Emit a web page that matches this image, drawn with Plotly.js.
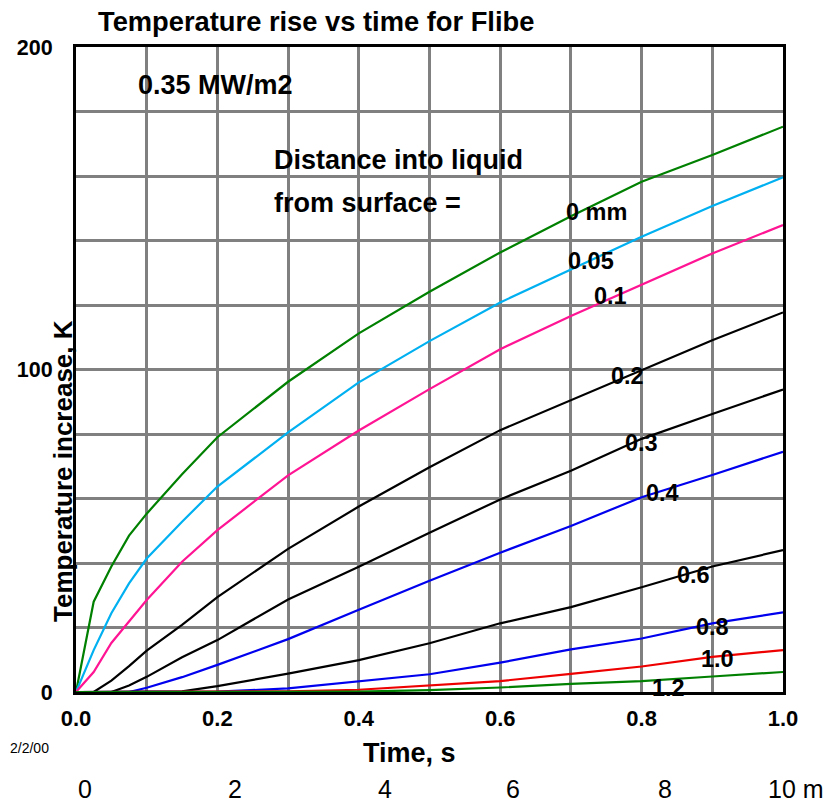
<!DOCTYPE html>
<html>
<head>
<meta charset="utf-8">
<script src="https://cdn.plot.ly/plotly-3.0.1.min.js"></script>
<style>html,body{margin:0;padding:0;background:#fff;}#chart{width:831px;height:806px;}</style>
</head>
<body>
<div id="chart"></div>
<script>
// ---- data ----
const time = [0, 0.025, 0.05, 0.075, 0.1, 0.15, 0.2, 0.3, 0.4, 0.5, 0.6, 0.7, 0.8, 0.9, 1.0];
const rise_0mm  = [0, 28, 38.9, 48.5, 55.3, 67.5, 79, 96.2, 111.2, 124.1, 136.3, 147.5, 158.2, 166.5, 175.3];
const rise_005  = [0, 13, 24.4, 33.7, 41.4, 52.8, 63.7, 80.5, 96, 108.8, 120.8, 130.9, 141.2, 150.7, 159.6];
const rise_01   = [0, 6.2, 15.2, 21.8, 28.5, 40.4, 50.2, 67.2, 81.1, 93.9, 106.3, 116.6, 126.2, 136, 144.8];
const rise_02   = [0, 0, 3.5, 8, 12.8, 20.8, 29.4, 44.4, 57.5, 69.7, 81.2, 90.5, 100, 109.1, 117.7];
const rise_03   = [0, 0, 0, 2, 4.7, 10.8, 16.1, 28.7, 38.8, 49.4, 59.7, 68.6, 78.5, 86.2, 93.8];
const rise_04   = [0, 0, 0, 0, 1.3, 4.6, 8.4, 16.4, 25.5, 34.5, 43.2, 51.5, 60.4, 67.3, 74.5];
const rise_06   = [0, 0, 0, 0, 0, 0.2, 1.8, 5.7, 9.9, 15.1, 21.3, 26.3, 32.5, 38.9, 44];
const rise_08   = [0, 0, 0, 0, 0, 0, 0.1, 1.1, 3.2, 5.5, 9.1, 13.2, 16.6, 21.3, 24.7];
const rise_10   = [0, 0, 0, 0, 0, 0, 0, 0.2, 0.7, 2.0, 3.4, 5.6, 7.9, 10.9, 13];
const rise_12   = [0, 0, 0, 0, 0, 0, 0, 0, 0.1, 0.6, 1.4, 2.5, 3.4, 4.8, 6.2];

const seriesNames = ['0 mm', '0.05', '0.1', '0.2', '0.3', '0.4', '0.6', '0.8', '1.0', '1.2'];
const seriesValues = [rise_0mm, rise_005, rise_01, rise_02, rise_03, rise_04, rise_06, rise_08, rise_10, rise_12];

const xTickVals = [0, 0.2, 0.4, 0.6, 0.8, 1.0];
const xTickText = ['0.0', '0.2', '0.4', '0.6', '0.8', '1.0'];
const yTickVals = [0, 100, 200];
const yTickText = ['0', '100', '200'];
const minuteLabels = ['0', '2', '4', '6', '8', '10 m'];

// ---- styles ----
const colors = ['#008000', '#00B0F0', '#FF1493', '#000000', '#000000', '#0000EE', '#000000', '#0000EE', '#EE0000', '#008000'];
// label anchor positions (left edge x in data units, y middle in data units)
const labelPos = [[0.692, 148.8], [0.694, 133.6], [0.731, 122.8], [0.755, 98], [0.775, 77.2],
                  [0.805, 61.7], [0.849, 36.3], [0.876, 20.2], [0.883, 10.2], [0.813, 1.2]];
const minutePx = [85, 235, 385, 513, 665, 767];

const FONT = '"Liberation Sans", Arial, Helvetica, sans-serif';
const W = 831, H = 806, L = 76, R = 48, T = 47, B = 114;
const PW = W - L - R, PH = H - T - B;
const px2x = p => (p - L) / PW;
const py2y = p => (H - B - p) / PH;

const traces = seriesValues.map((vals, i) => ({
  x: time, y: vals, type: 'scatter', mode: 'lines', name: seriesNames[i],
  line: {color: colors[i], width: 2.2}, hoverinfo: 'skip'
}));

const bold = (size, color) => ({family: FONT, size: size, color: color || '#000', weight: 700});
const reg = (size) => ({family: FONT, size: size, color: '#000'});

const annotations = [];
seriesNames.forEach((n, i) => annotations.push({
  x: labelPos[i][0], y: labelPos[i][1], xref: 'x', yref: 'y', text: n, showarrow: false,
  xanchor: 'left', yanchor: 'middle', font: bold(23.5), borderpad: 0
}));
const pa = (px, py, text, font, xanchor, extra) => annotations.push(Object.assign({
  x: px2x(px), y: py2y(py), xref: 'paper', yref: 'paper', text: text, showarrow: false,
  xanchor: xanchor, yanchor: 'middle', font: font, borderpad: 0
}, extra || {}));
pa(97, 22, 'Temperature rise vs time for Flibe', bold(27.3), 'left');
pa(137, 85, '0.35 MW/m2', bold(27), 'left');
pa(273, 160, 'Distance into liquid', bold(27), 'left');
pa(273, 203, 'from surface =', bold(27), 'left');
pa(409, 753, 'Time, s', bold(27), 'center');
pa(63, 471, 'Temperature increase, K', bold(26), 'center', {textangle: -90});
pa(9, 748, '2/2/00', reg(14), 'left');
minuteLabels.forEach((m, i) => pa(minutePx[i], 789, m, reg(25), i === minuteLabels.length - 1 ? 'left' : 'center'));

const layout = {
  width: W, height: H,
  margin: {l: L, r: R, t: T, b: B, pad: 0},
  paper_bgcolor: '#fff', plot_bgcolor: '#fff',
  showlegend: false,
  xaxis: {
    range: [0, 1], tickvals: xTickVals, ticktext: xTickText,
    showgrid: true, gridcolor: '#808080', gridwidth: 3,
    minor: {dtick: 0.1, showgrid: true, gridcolor: '#808080', gridwidth: 3},
    showline: true, linecolor: '#000', linewidth: 3, mirror: true,
    ticks: '', ticklabelstandoff: 5, tickfont: bold(22), zeroline: false, fixedrange: true
  },
  yaxis: {
    range: [0, 200], tickvals: yTickVals, ticktext: yTickText,
    showgrid: true, gridcolor: '#808080', gridwidth: 3,
    minor: {dtick: 20, showgrid: true, gridcolor: '#808080', gridwidth: 3},
    showline: true, linecolor: '#000', linewidth: 3, mirror: true,
    ticks: '', ticklabelstandoff: 16, tickfont: bold(21.5), zeroline: false, fixedrange: true
  },
  annotations: annotations
};

Plotly.newPlot('chart', traces, layout, {displayModeBar: false, staticPlot: true});
</script>
</body>
</html>
